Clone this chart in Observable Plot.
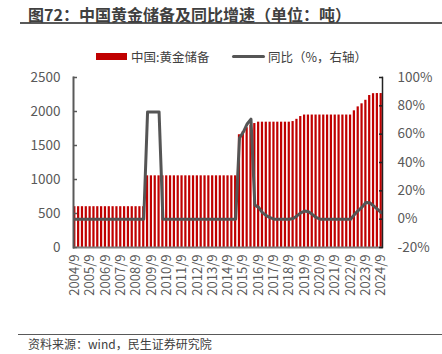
<!DOCTYPE html>
<html><head><meta charset="utf-8">
<script src="https://cdn.jsdelivr.net/npm/d3@7"></script>
<script src="https://cdn.jsdelivr.net/npm/@observablehq/plot@0.6"></script>
<style>
body{margin:0;width:442px;height:354px;position:relative;background:#fff;font-family:"Noto Sans CJK SC","Noto Sans",sans-serif;overflow:hidden}
#title{position:absolute;left:20px;top:0;width:422px;height:22px;border-bottom:2px solid #595959}
#title span{position:absolute;left:8px;top:4px;font-size:16px;font-weight:bold;color:#404040;line-height:20px;white-space:nowrap}
.lg{position:absolute;font-size:12.5px;color:#404040;line-height:16px;top:48.5px;white-space:nowrap}
#sw1{position:absolute;left:96px;top:53px;width:31px;height:7px;background:#c00000}
#sw2{position:absolute;left:232px;top:55px;width:33px;height:3px;background:#555;border-radius:1.5px}
#chart{position:absolute;left:0;top:65px}
#foot{position:absolute;left:18px;top:334px;width:424px;border-top:1.5px solid #595959}
#foot span{position:absolute;left:10px;top:1px;font-size:12px;color:#404040;line-height:16px;white-space:nowrap}
</style></head>
<body>
<div id="title"><span>图72：中国黄金储备及同比增速（单位：吨）</span></div>
<div id="sw1"></div><div class="lg" style="left:131px">中国:黄金储备</div>
<div id="sw2"></div><div class="lg" style="left:268px">同比（%，右轴）</div>
<div id="chart"></div>
<div id="foot"><span>资料来源：wind，民生证券研究院</span></div>
<script>
const quarters = ["2004/9","2004/12",
"2005/3","2005/6","2005/9","2005/12","2006/3","2006/6","2006/9","2006/12",
"2007/3","2007/6","2007/9","2007/12","2008/3","2008/6","2008/9","2008/12",
"2009/3","2009/6","2009/9","2009/12","2010/3","2010/6","2010/9","2010/12",
"2011/3","2011/6","2011/9","2011/12","2012/3","2012/6","2012/9","2012/12",
"2013/3","2013/6","2013/9","2013/12","2014/3","2014/6","2014/9","2014/12",
"2015/3","2015/6","2015/9","2015/12","2016/3","2016/6","2016/9","2016/12",
"2017/3","2017/6","2017/9","2017/12","2018/3","2018/6","2018/9","2018/12",
"2019/3","2019/6","2019/9","2019/12","2020/3","2020/6","2020/9","2020/12",
"2021/3","2021/6","2021/9","2021/12","2022/3","2022/6","2022/9","2022/12",
"2023/3","2023/6","2023/9","2023/12","2024/3","2024/6","2024/9"];
const reserves = [600,600,
600,600,600,600,600,600,600,600,
600,600,600,600,600,600,600,600,
600,1054,1054,1054,1054,1054,1054,1054,
1054,1054,1054,1054,1054,1054,1054,1054,
1054,1054,1054,1054,1054,1054,1054,1054,
1054,1658,1702,1762,1798,1823,1843,1843,
1843,1843,1843,1843,1843,1843,1843,1852,
1885,1926,1948,1948,1948,1948,1948,1948,
1948,1948,1948,1948,1948,1948,1948,2010,
2068,2113,2165,2235,2262,2264,2264];
const yoy = [0,0,
0,0,0,0,0,0,0,0,
0,0,0,0,0,0,0,0,
0,75.7,75.7,75.7,75.7,0,0,0,
0,0,0,0,0,0,0,0,
0,0,0,0,0,0,0,0,
0,57.3,61.5,67.2,70.6,9.9,8.3,4.6,
2.5,1.1,0,0,0,0,0,0.5,
2.3,4.5,5.7,5.2,3.4,1.2,0,0,
0,0,0,0,0,0,0,3.2,
6.1,8.5,11.8,11.6,9.4,7.1,4.6];
const xTickLabels = ["2004/9","2005/9","2006/9","2007/9","2008/9","2009/9","2010/9","2011/9","2012/9","2013/9","2014/9","2015/9","2016/9","2017/9","2018/9","2019/9","2020/9","2021/9","2022/9","2023/9","2024/9"];
const leftTicks = [0,500,1000,1500,2000,2500];
const rightTicks = [-20,0,20,40,60,80,100];

const rows = quarters.map((q,i)=>({q, reserve: reserves[i], yoy: yoy[i]}));
const toLeft = p => (p + 20) * 2500 / 120;
const fromLeft = v => Math.round(v * 120 / 2500 - 20);

const axisColor = "#595959";
const chart = Plot.plot({
  width: 442, height: 242,
  marginLeft: 73, marginRight: 60, marginTop: 12, marginBottom: 60,
  style: {fontFamily: '"Noto Sans CJK SC","Noto Sans",sans-serif', fontSize: "13px", color: axisColor, background: "transparent"},
  x: {type: "band", domain: quarters, paddingInner: 0.42, paddingOuter: 0.05, axis: null},
  y: {domain: [0, 2500], axis: null},
  marks: [
    Plot.barY(rows, {x: "q", y: "reserve", fill: "#c00000"}),
    Plot.lineY(rows, {x: "q", y: d => toLeft(d.yoy), stroke: "#555555", strokeWidth: 3, strokeLinejoin: "round", strokeLinecap: "round"}),
    Plot.ruleY([0], {stroke: "#808080", strokeWidth: 2}),
    Plot.frame({anchor: "left", stroke: axisColor, strokeWidth: 2}),
    Plot.frame({anchor: "right", stroke: "#222", strokeWidth: 1.5}),
    Plot.axisY(leftTicks, {anchor: "left", tickSize: 0, tickPadding: 13, fontSize: 13.5, fill: axisColor, tickFormat: d => String(d), label: null}),
    Plot.axisY(leftTicks, {anchor: "left", tickSize: -4, fill: "none", stroke: axisColor, strokeWidth: 1.5, label: null}),
    Plot.axisY(rightTicks.map(toLeft), {anchor: "right", tickSize: 0, tickPadding: 15, fontSize: 13.5, fill: axisColor, tickFormat: v => fromLeft(v) + "%", label: null}),
    Plot.axisY(rightTicks.map(toLeft), {anchor: "right", tickSize: -4, fill: "none", stroke: "#222", strokeWidth: 1.5, label: null}),
    Plot.axisX(xTickLabels, {anchor: "bottom", tickSize: 0, tickPadding: 7, tickRotate: -90, fontSize: 13, fill: axisColor, label: null})
  ]
});
document.getElementById("chart").appendChild(chart);
</script>
</body></html>
